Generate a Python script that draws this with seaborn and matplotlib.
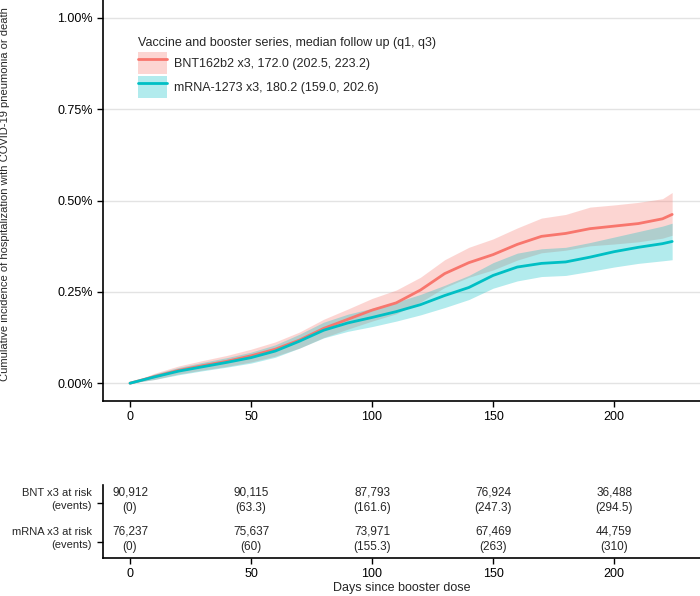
import numpy as np
import pandas as pd
import seaborn as sns
import matplotlib.pyplot as plt
from matplotlib.patches import Patch
from matplotlib.lines import Line2D
from matplotlib import font_manager
import matplotlib.transforms as mtransforms

sns.set_style("white")
plt.rcParams['font.family'] = ['Liberation Sans', 'DejaVu Sans']

names = {f.name for f in font_manager.fontManager.ttflist}
table_font = 'Liberation Sans Narrow' if 'Liberation Sans Narrow' in names else 'Liberation Sans'

# cumulative incidence (%)
days = [0, 10, 20, 30, 40, 50, 60, 70, 80, 90, 100, 110, 120, 130, 140, 150,
        160, 170, 180, 190, 200, 210, 220, 224]
bnt_est = [0.0, 0.018, 0.035, 0.048, 0.06, 0.075, 0.093, 0.118, 0.15, 0.175, 0.2, 0.22,
           0.255, 0.3, 0.33, 0.352, 0.38, 0.402, 0.41, 0.423, 0.43, 0.437, 0.45, 0.462]
bnt_lo = [0.0, 0.01, 0.025, 0.036, 0.046, 0.058, 0.074, 0.096, 0.125, 0.148, 0.17, 0.19,
          0.222, 0.262, 0.29, 0.31, 0.337, 0.357, 0.364, 0.376, 0.381, 0.387, 0.397, 0.405]
bnt_hi = [0.0, 0.027, 0.047, 0.062, 0.076, 0.093, 0.113, 0.14, 0.175, 0.203, 0.232, 0.255,
          0.29, 0.338, 0.372, 0.395, 0.425, 0.452, 0.462, 0.482, 0.488, 0.495, 0.505, 0.522]
mrna_est = [0.0, 0.017, 0.033, 0.045, 0.057, 0.07, 0.088, 0.115, 0.145, 0.165, 0.18, 0.196,
            0.215, 0.24, 0.262, 0.295, 0.318, 0.328, 0.332, 0.345, 0.36, 0.372, 0.382, 0.388]
mrna_lo = [0.0, 0.01, 0.023, 0.034, 0.044, 0.055, 0.071, 0.096, 0.124, 0.142, 0.155, 0.17,
           0.187, 0.207, 0.229, 0.26, 0.28, 0.292, 0.295, 0.306, 0.318, 0.328, 0.335, 0.338]
mrna_hi = [0.0, 0.025, 0.043, 0.057, 0.07, 0.085, 0.105, 0.134, 0.167, 0.189, 0.205, 0.222,
           0.243, 0.268, 0.295, 0.33, 0.356, 0.368, 0.372, 0.385, 0.4, 0.415, 0.43, 0.438]

# risk table
table_days = [0, 50, 100, 150, 200]
bnt_risk = ['90,912', '90,115', '87,793', '76,924', '36,488']
bnt_events = ['(0)', '(63.3)', '(161.6)', '(247.3)', '(294.5)']
mrna_risk = ['76,237', '75,637', '73,971', '67,469', '44,759']
mrna_events = ['(0)', '(60)', '(155.3)', '(263)', '(310)']

labels = ['BNT162b2 x3, 172.0 (202.5, 223.2)', 'mRNA-1273 x3, 180.2 (159.0, 202.6)']
colors = ['#F8766D', '#00BFC4']

df = pd.DataFrame({
    'day': days * 2,
    'est': bnt_est + mrna_est,
    'group': [labels[0]] * len(days) + [labels[1]] * len(days),
})

fig = plt.figure(figsize=(7, 5.96), dpi=100)
ax = fig.add_axes([0.147, 0.327, 0.853, 0.673])
ax2 = fig.add_axes([0.147, 0.064, 0.853, 0.122])

# bands + lines, red first so teal sits on top
for i, (lo, hi) in enumerate([(bnt_lo, bnt_hi), (mrna_lo, mrna_hi)]):
    ax.fill_between(days, lo, hi, color=colors[i], alpha=0.3, lw=0)
    sns.lineplot(data=df[df['group'] == labels[i]], x='day', y='est', color=colors[i],
                 lw=2.0, ax=ax, legend=False)

ax.set_xlim(-11.2, 235.5)
ax.set_ylim(-0.049, 1.049)
ax.set_yticks([0, 0.25, 0.5, 0.75, 1.0])
ax.set_yticklabels(['0.00%', '0.25%', '0.50%', '0.75%', '1.00%'], fontsize=9)
ax.set_xticks(table_days)
ax.set_xticklabels([str(d) for d in table_days], fontsize=9, family=table_font)
ax.grid(axis='y', color='#E3E3E3', lw=1)
ax.set_axisbelow(True)
ax.set_xlabel('')
ax.set_ylabel('Cumulative incidence of hospitalization with COVID-19 pneumonia or death',
              fontsize=8)
ax.yaxis.set_label_coords(-0.155, 0.515)
sns.despine(ax=ax)
for s in ['left', 'bottom']:
    ax.spines[s].set_linewidth(1.2)
    ax.spines[s].set_color('black')
ax.tick_params(axis='both', length=4, width=1, color='black', direction='out',
               left=True, bottom=True, pad=3, labelcolor='black')

handles = [(Patch(facecolor=c, alpha=0.3, lw=0), Line2D([0], [0], color=c, lw=2.0))
           for c in colors]
leg = ax.legend(handles, labels, title='Vaccine and booster series, median follow up (q1, q3)',
                loc='upper left', bbox_to_anchor=(0.04, 0.935), frameon=False, fontsize=9,
                title_fontsize=9, handlelength=2.3, handleheight=2.3, labelspacing=0.2,
                handletextpad=0.6, alignment='left')

# risk table
ax2.set_xlim(-11.2, 235.5)
ax2.set_ylim(-0.47, 1.4)
trans = mtransforms.blended_transform_factory(ax2.transAxes, ax2.transData)
rows = [(1, 'BNT x3 at risk', bnt_risk, bnt_events), (0, 'mRNA x3 at risk', mrna_risk, mrna_events)]
for y, lab, risk, ev in rows:
    for d, r, e in zip(table_days, risk, ev):
        ax2.text(d, y + 0.2, r, ha='center', va='center', fontsize=8.5, family=table_font)
        ax2.text(d, y - 0.2, e, ha='center', va='center', fontsize=8.5, family=table_font)
    ax2.text(-0.018, y + 0.2, lab, transform=trans, ha='right', va='center', fontsize=8,
             family=table_font)
    ax2.text(-0.018, y - 0.14, '(events)', transform=trans, ha='right', va='center', fontsize=8,
             family=table_font)
ax2.set_yticks([0.95, -0.05])
ax2.set_yticklabels(['', ''])
ax2.set_xticks(table_days)
ax2.set_xticklabels([str(d) for d in table_days], fontsize=9, family=table_font)
ax2.set_xlabel('Days since booster dose', fontsize=9, family=table_font, labelpad=2)
sns.despine(ax=ax2)
for s in ['left', 'bottom']:
    ax2.spines[s].set_linewidth(1.2)
    ax2.spines[s].set_color('black')
ax2.tick_params(axis='both', length=4, width=1, color='black', direction='out',
                left=True, bottom=True, pad=3, labelcolor='black')

fig.savefig('out.png', dpi=100)
